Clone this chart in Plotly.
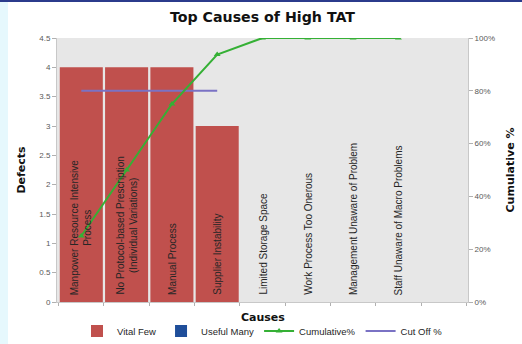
import plotly.graph_objects as go

categories = [
    "Manpower Resource Intensive<br>Process",
    "No Protocol-based Prescription<br>(Individual Variations)",
    "Manual Process",
    "Supplier Instability",
    "Limited Storage Space",
    "Work Process Too Onerous",
    "Management Unaware of Problem",
    "Staff Unaware of Macro Problems",
    " ",
]
vital_few = [4, 4, 4, 3, None, None, None, None, None]
useful_many = [None, None, None, None, None, None, None, None, None]
cumulative_pct = [25, 50, 75, 93.75, 100, 100, 100, 100, None]
cut_off_pct = [80, 80, 80, 80, None, None, None, None, None]
left_ticks = [0, 0.5, 1, 1.5, 2, 2.5, 3, 3.5, 4, 4.5]
right_ticks = [0, 20, 40, 60, 80, 100]
right_labels = ["0%", "20%", "40%", "60%", "80%", "100%"]

W, H = 522, 344
L, R, T, B = 57, 54, 38, 42
pw, ph = W - L - R, H - T - B

fig = go.Figure()
fig.add_trace(go.Bar(x=categories, y=vital_few, name="Vital Few",
                     marker=dict(color="#c0504d", line=dict(width=0)), legendrank=1))
fig.add_trace(go.Bar(x=categories, y=useful_many, name="Useful Many",
                     marker=dict(color="#1f4e9a", line=dict(width=0)), legendrank=2))
fig.add_trace(go.Scatter(x=categories, y=cut_off_pct, name="Cut Off %", yaxis="y2",
                         mode="lines", line=dict(color="#7a72c4", width=2), legendrank=4))
fig.add_trace(go.Scatter(x=categories, y=cumulative_pct, name="Cumulative%", yaxis="y2",
                         mode="lines+markers", line=dict(color="#35b035", width=2),
                         marker=dict(symbol="triangle-up", size=6, color="#35b035"),
                         legendrank=3))

for c in categories:
    fig.add_annotation(x=c, y=0, xref="x", yref="paper", yshift=5,
                       text=c.strip(), textangle=-90, showarrow=False,
                       xanchor="center", yanchor="bottom",
                       font=dict(family="Liberation Sans, Arial", size=10, color="#262626"))

fig.add_annotation(x=0.5, y=-15 / ph, xref="paper", yref="paper", showarrow=False,
                   text="<b>Causes</b>", xanchor="center", yanchor="middle",
                   font=dict(family="DejaVu Sans, Verdana", size=11, color="#111"))

fig.add_shape(type="rect", xref="paper", yref="paper",
              x0=-L / pw, x1=(-L + 8) / pw, y0=-B / ph, y1=1 + T / ph,
              fillcolor="#e6f8fd", line=dict(width=0), layer="below")
fig.add_shape(type="rect", xref="paper", yref="paper",
              x0=-L / pw, x1=1 + R / pw, y0=1 + (T - 2) / ph, y1=1 + T / ph,
              fillcolor="#2b3b8c", line=dict(width=0))

tickfont = dict(family="Liberation Sans, Arial", size=8, color="#595959")
fig.update_layout(
    width=W, height=H,
    margin=dict(l=L, r=R, t=T, b=B, autoexpand=False),
    paper_bgcolor="white", plot_bgcolor="#e7e7e7",
    bargap=0.05,
    barmode="overlay",
    title=dict(text="<b>Top Causes of High TAT</b>", x=(L + pw / 2) / W, xanchor="center",
               y=1 - 17 / H, yanchor="middle",
               font=dict(family="DejaVu Sans, Verdana", size=14.2, color="#111")),
    xaxis=dict(type="category", showticklabels=False, tickson="boundaries",
               ticks="outside", ticklen=3, tickcolor="#b0b0b0",
               showline=True, linecolor="#c8c8c8", showgrid=False),
    yaxis=dict(range=[0, 4.5], tickvals=left_ticks, ticks="outside", ticklen=4,
               tickcolor="#b0b0b0", showline=True, linecolor="#c8c8c8", showgrid=False,
               zeroline=False, tickfont=tickfont,
               title=dict(text="<b>Defects</b>", standoff=11,
                          font=dict(family="DejaVu Sans, Verdana", size=11, color="#111"))),
    yaxis2=dict(range=[0, 100], tickvals=right_ticks, ticktext=right_labels, overlaying="y",
                side="right", ticks="outside", ticklen=4, tickcolor="#b0b0b0",
                showline=True, linecolor="#c8c8c8", showgrid=False, zeroline=False,
                tickfont=tickfont,
                title=dict(text="<b>Cumulative %</b>", standoff=12,
                           font=dict(family="DejaVu Sans, Verdana", size=11, color="#111"))),
    showlegend=True,
    legend=dict(orientation="h", x=(L + pw / 2) / W, xanchor="center", xref="container",
                y=13 / H, yanchor="middle", yref="container", traceorder="normal",
                font=dict(family="Liberation Sans, Arial", size=9.5, color="#262626"),
                itemwidth=30, bgcolor="rgba(0,0,0,0)"),
)
fig.write_html("out.html")
